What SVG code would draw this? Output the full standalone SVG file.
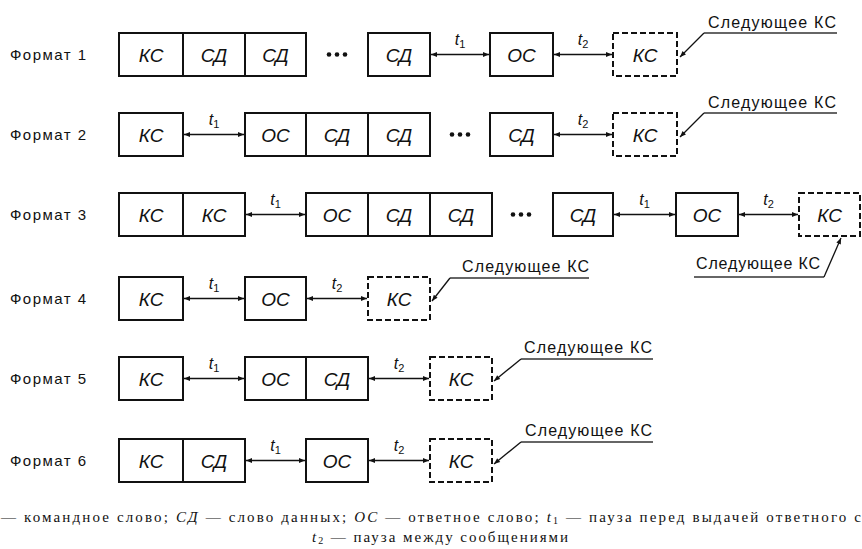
<svg xmlns="http://www.w3.org/2000/svg" width="862" height="549" viewBox="0 0 862 549">
<style>
.box{fill:#fff;stroke:#111;stroke-width:2}
.dbox{fill:#fff;stroke:#111;stroke-width:2;stroke-dasharray:6 3}
.lbl{font-family:"Liberation Sans",Arial,sans-serif;font-style:italic;font-size:19px;text-anchor:middle;fill:#111}
.fmt{font-family:"Liberation Sans",Arial,sans-serif;font-size:15px;fill:#111}
.t{font-family:"Liberation Sans",Arial,sans-serif;font-style:italic;font-size:16px;text-anchor:middle;fill:#111}
.sub{font-size:11px;font-style:normal}
.arr{stroke:#111;stroke-width:1.5;fill:none;marker-start:url(#ah);marker-end:url(#ah)}
.lead{stroke:#111;stroke-width:1.3;fill:none;marker-end:url(#ah)}
.ul{stroke:#333;stroke-width:1.6}
.next{font-family:"Liberation Sans",Arial,sans-serif;font-size:16px;fill:#111}
.dot{fill:#111}
.cap{font-family:"Liberation Serif","Times New Roman",serif;font-size:15px;fill:#111}
.it{font-style:italic}
</style>
<defs>
<marker id="ah" viewBox="0 0 10 10" refX="10" refY="5" markerWidth="8" markerHeight="6" markerUnits="userSpaceOnUse" orient="auto-start-reverse">
<path d="M0,1 L10,5 L0,9 z" fill="#111"/>
</marker>
</defs>
<rect width="862" height="549" fill="#fff"/>

<!-- Format labels -->
<g id="labels">
<text class="fmt" x="10" y="59.5" textLength="76">Формат 1</text>
<text class="fmt" x="10" y="139.5" textLength="76">Формат 2</text>
<text class="fmt" x="10" y="219.5" textLength="76">Формат 3</text>
<text class="fmt" x="10" y="303.5" textLength="76">Формат 4</text>
<text class="fmt" x="10" y="383.5" textLength="76">Формат 5</text>
<text class="fmt" x="10" y="465.5" textLength="76">Формат 6</text>
</g>

<!-- Row 1 -->
<g id="r1-ks"><rect class="box" x="119" y="33" width="64" height="43"/><text class="lbl" x="151" y="61.5">КС</text></g>
<g id="r1-sd1"><rect class="box" x="183" y="33" width="62" height="43"/><text class="lbl" x="214" y="61.5">СД</text></g>
<g id="r1-sd2"><rect class="box" x="245" y="33" width="61" height="43"/><text class="lbl" x="275.5" y="61.5">СД</text></g>
<g id="r1-dots"><circle class="dot" cx="329" cy="54.5" r="2.3"/><circle class="dot" cx="337" cy="54.5" r="2.3"/><circle class="dot" cx="345" cy="54.5" r="2.3"/></g>
<g id="r1-sd3"><rect class="box" x="368" y="33" width="62" height="43"/><text class="lbl" x="399" y="61.5">СД</text></g>
<g id="r1-os"><rect class="box" x="490" y="33" width="63" height="43"/><text class="lbl" x="521.5" y="61.5">ОС</text></g>
<g id="r1-next"><rect class="dbox" x="613" y="33" width="64" height="43"/><text class="lbl" x="645" y="61.5">КС</text></g>
<g id="r1-note"><text class="next" x="708" y="28" textLength="128">Следующее КС</text><line class="ul" x1="704" y1="33" x2="837" y2="33"/></g>

<!-- Row 2 -->
<g id="r2-ks"><rect class="box" x="119" y="113" width="64" height="43"/><text class="lbl" x="151" y="141.5">КС</text></g>
<g id="r2-os"><rect class="box" x="245" y="113" width="61" height="43"/><text class="lbl" x="275.5" y="141.5">ОС</text></g>
<g id="r2-sd1"><rect class="box" x="306" y="113" width="62" height="43"/><text class="lbl" x="337" y="141.5">СД</text></g>
<g id="r2-sd2"><rect class="box" x="368" y="113" width="62" height="43"/><text class="lbl" x="399" y="141.5">СД</text></g>
<g id="r2-dots"><circle class="dot" cx="452" cy="134.5" r="2.3"/><circle class="dot" cx="460" cy="134.5" r="2.3"/><circle class="dot" cx="468" cy="134.5" r="2.3"/></g>
<g id="r2-sd3"><rect class="box" x="490" y="113" width="63" height="43"/><text class="lbl" x="521.5" y="141.5">СД</text></g>
<g id="r2-next"><rect class="dbox" x="613" y="113" width="64" height="43"/><text class="lbl" x="645" y="141.5">КС</text></g>
<g id="r2-note"><text class="next" x="708" y="108" textLength="128">Следующее КС</text><line class="ul" x1="704" y1="113" x2="837" y2="113"/></g>

<!-- Row 3 -->
<g id="r3-ks1"><rect class="box" x="119" y="193" width="64" height="43"/><text class="lbl" x="151" y="221.5">КС</text></g>
<g id="r3-ks2"><rect class="box" x="183" y="193" width="62" height="43"/><text class="lbl" x="214" y="221.5">КС</text></g>
<g id="r3-os1"><rect class="box" x="306" y="193" width="62" height="43"/><text class="lbl" x="337" y="221.5">ОС</text></g>
<g id="r3-sd1"><rect class="box" x="368" y="193" width="62" height="43"/><text class="lbl" x="399" y="221.5">СД</text></g>
<g id="r3-sd2"><rect class="box" x="430" y="193" width="62" height="43"/><text class="lbl" x="461" y="221.5">СД</text></g>
<g id="r3-dots"><circle class="dot" cx="513" cy="214.5" r="2.3"/><circle class="dot" cx="521" cy="214.5" r="2.3"/><circle class="dot" cx="529" cy="214.5" r="2.3"/></g>
<g id="r3-sd3"><rect class="box" x="553" y="193" width="60" height="43"/><text class="lbl" x="583" y="221.5">СД</text></g>
<g id="r3-os2"><rect class="box" x="676" y="193" width="62" height="43"/><text class="lbl" x="707" y="221.5">ОС</text></g>
<g id="r3-next"><rect class="dbox" x="799" y="193" width="61" height="43"/><text class="lbl" x="829.5" y="221.5">КС</text></g>
<g id="r3-note"><text class="next" x="696" y="269" textLength="124">Следующее КС</text><line class="ul" x1="694" y1="277" x2="824" y2="277"/></g>

<!-- Row 4 -->
<g id="r4-ks"><rect class="box" x="119" y="277" width="64" height="43"/><text class="lbl" x="151" y="305.5">КС</text></g>
<g id="r4-os"><rect class="box" x="245" y="277" width="61" height="43"/><text class="lbl" x="275.5" y="305.5">ОС</text></g>
<g id="r4-next"><rect class="dbox" x="368" y="277" width="62" height="43"/><text class="lbl" x="399" y="305.5">КС</text></g>
<g id="r4-note"><text class="next" x="462" y="272" textLength="127">Следующее КС</text><line class="ul" x1="450" y1="278" x2="589" y2="278"/></g>

<!-- Row 5 -->
<g id="r5-ks"><rect class="box" x="119" y="357" width="64" height="43"/><text class="lbl" x="151" y="385.5">КС</text></g>
<g id="r5-os"><rect class="box" x="245" y="357" width="61" height="43"/><text class="lbl" x="275.5" y="385.5">ОС</text></g>
<g id="r5-sd"><rect class="box" x="306" y="357" width="62" height="43"/><text class="lbl" x="337" y="385.5">СД</text></g>
<g id="r5-next"><rect class="dbox" x="430" y="357" width="62" height="43"/><text class="lbl" x="461" y="385.5">КС</text></g>
<g id="r5-note"><text class="next" x="524" y="353" textLength="128">Следующее КС</text><line class="ul" x1="521" y1="359" x2="653" y2="359"/></g>

<!-- Row 6 -->
<g id="r6-ks"><rect class="box" x="119" y="439" width="64" height="43"/><text class="lbl" x="151" y="467.5">КС</text></g>
<g id="r6-sd"><rect class="box" x="183" y="439" width="62" height="43"/><text class="lbl" x="214" y="467.5">СД</text></g>
<g id="r6-os"><rect class="box" x="306" y="439" width="62" height="43"/><text class="lbl" x="337" y="467.5">ОС</text></g>
<g id="r6-next"><rect class="dbox" x="430" y="439" width="62" height="43"/><text class="lbl" x="461" y="467.5">КС</text></g>
<g id="r6-note"><text class="next" x="525" y="436" textLength="127">Следующее КС</text><line class="ul" x1="521" y1="442" x2="653" y2="442"/></g>

<!-- Connectors -->
<g id="connectors">
<line class="arr" x1="431" y1="54.5" x2="489" y2="54.5"/>
<line class="arr" x1="554" y1="54.5" x2="612" y2="54.5"/>
<line class="lead" x1="704" y1="33" x2="680" y2="57"/>

<line class="arr" x1="184" y1="134.5" x2="244" y2="134.5"/>
<line class="arr" x1="554" y1="134.5" x2="612" y2="134.5"/>
<line class="lead" x1="704" y1="113" x2="680" y2="137"/>

<line class="arr" x1="246" y1="214.5" x2="305" y2="214.5"/>
<line class="arr" x1="614" y1="214.5" x2="675" y2="214.5"/>
<line class="arr" x1="739" y1="214.5" x2="798" y2="214.5"/>
<line class="lead" x1="824" y1="277" x2="841" y2="238"/>

<line class="arr" x1="184" y1="298.5" x2="244" y2="298.5"/>
<line class="arr" x1="307" y1="298.5" x2="367" y2="298.5"/>
<line class="lead" x1="450" y1="278" x2="432" y2="301"/>

<line class="arr" x1="184" y1="378.5" x2="244" y2="378.5"/>
<line class="arr" x1="369" y1="378.5" x2="429" y2="378.5"/>
<line class="lead" x1="521" y1="359" x2="494" y2="381"/>

<line class="arr" x1="246" y1="460.5" x2="305" y2="460.5"/>
<line class="arr" x1="369" y1="460.5" x2="429" y2="460.5"/>
<line class="lead" x1="521" y1="442" x2="494" y2="464"/>
</g>

<!-- Pause labels -->
<g id="pauses">
<text class="t" x="460" y="45">t<tspan class="sub" dy="3">1</tspan></text>
<text class="t" x="583" y="45">t<tspan class="sub" dy="3">2</tspan></text>
<text class="t" x="214" y="125">t<tspan class="sub" dy="3">1</tspan></text>
<text class="t" x="583" y="125">t<tspan class="sub" dy="3">2</tspan></text>
<text class="t" x="275.5" y="205">t<tspan class="sub" dy="3">1</tspan></text>
<text class="t" x="644.5" y="205">t<tspan class="sub" dy="3">1</tspan></text>
<text class="t" x="768.5" y="205">t<tspan class="sub" dy="3">2</tspan></text>
<text class="t" x="214" y="289">t<tspan class="sub" dy="3">1</tspan></text>
<text class="t" x="337" y="289">t<tspan class="sub" dy="3">2</tspan></text>
<text class="t" x="214" y="369">t<tspan class="sub" dy="3">1</tspan></text>
<text class="t" x="399" y="369">t<tspan class="sub" dy="3">2</tspan></text>
<text class="t" x="275.5" y="451">t<tspan class="sub" dy="3">1</tspan></text>
<text class="t" x="399" y="451">t<tspan class="sub" dy="3">2</tspan></text>
</g>

<!-- Caption -->
<g id="caption">
<text class="cap" x="1" y="522" textLength="860" lengthAdjust="spacing">— командное слово; <tspan class="it">СД</tspan> — слово данных; <tspan class="it">ОС</tspan> — ответное слово; <tspan class="it">t</tspan><tspan font-size="10" dy="2">1</tspan><tspan dy="-2"> — пауза перед выдачей ответного с</tspan></text>
<text class="cap" x="312" y="542" textLength="256" lengthAdjust="spacing"><tspan class="it">t</tspan><tspan font-size="10" dy="2">2</tspan><tspan dy="-2"> — пауза между сообщениями</tspan></text>
</g>
</svg>
